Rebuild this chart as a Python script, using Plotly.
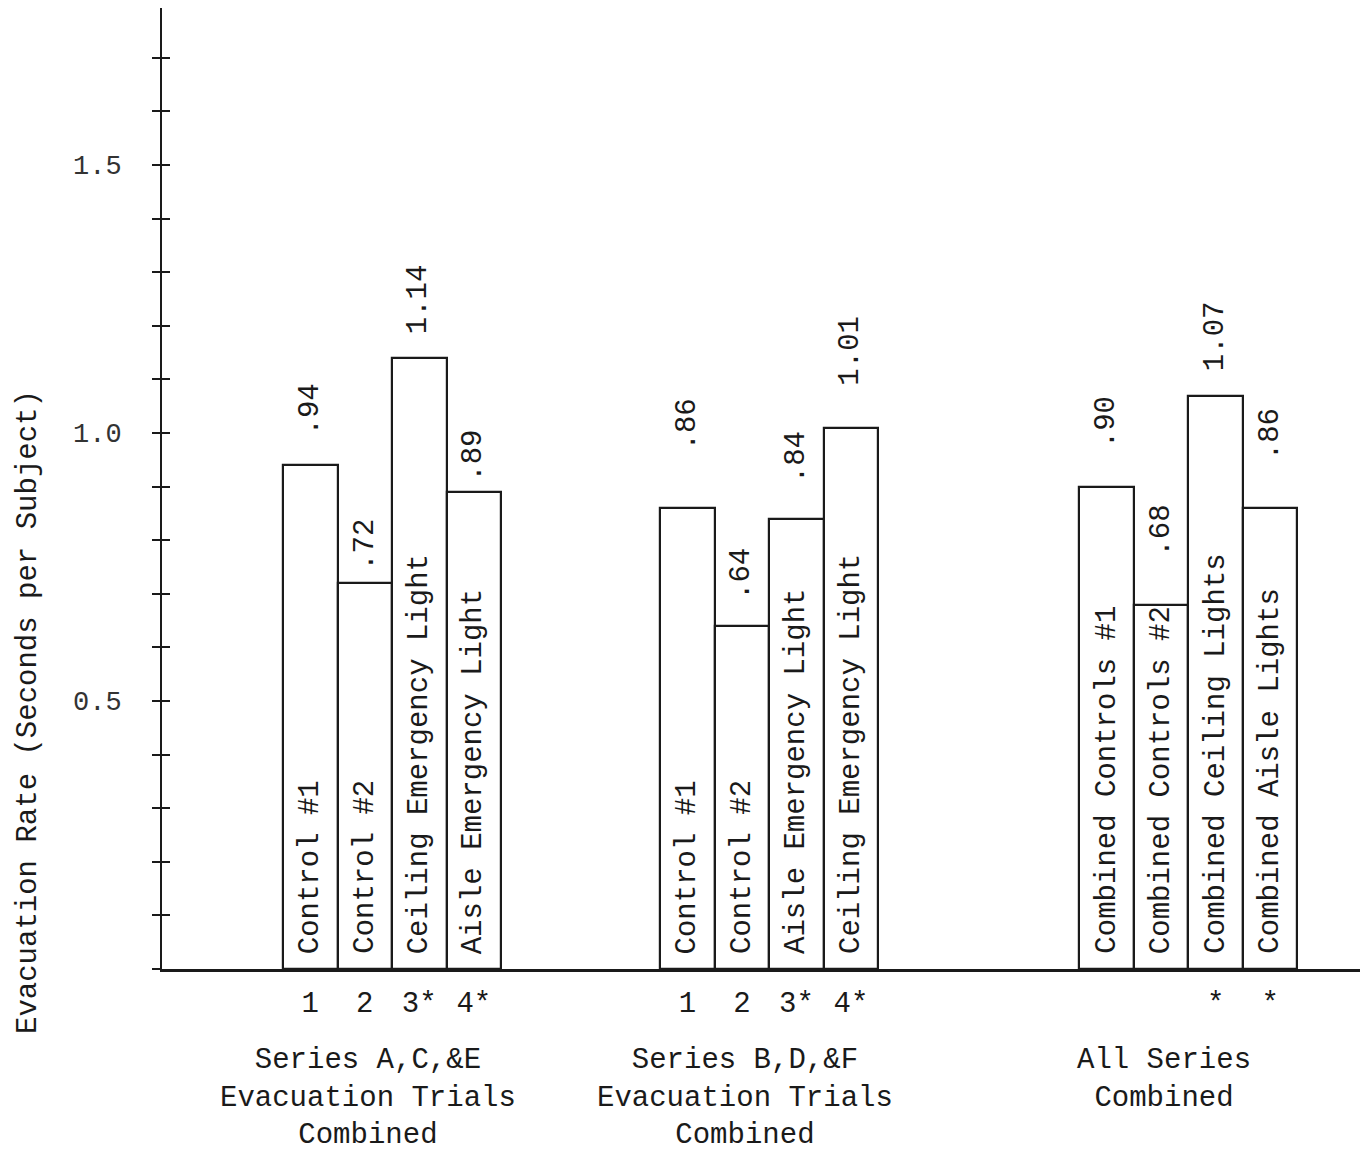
import plotly.graph_objects as go

# ---------------- data ----------------
GROUP_LABELS = [
    "Series A,C,&E<br>Evacuation Trials<br>Combined",
    "Series B,D,&F<br>Evacuation Trials<br>Combined",
    "All Series<br>Combined",
]
BAR_NAMES = [
    ["Control #1", "Control #2", "Ceiling Emergency Light", "Aisle Emergency Light"],
    ["Control #1", "Control #2", "Aisle Emergency Light", "Ceiling Emergency Light"],
    ["Combined Controls #1", "Combined Controls #2", "Combined Ceiling Lights", "Combined Aisle Lights"],
]
VALUES = [
    [0.94, 0.72, 1.14, 0.89],
    [0.86, 0.64, 0.84, 1.01],
    [0.90, 0.68, 1.07, 0.86],
]
VALUE_LABELS = [
    [".94", ".72", "1.14", ".89"],
    [".86", ".64", ".84", "1.01"],
    [".90", ".68", "1.07", ".86"],
]
BAR_MARKS = [
    ["1", "2", "3*", "4*"],
    ["1", "2", "3*", "4*"],
    ["", "", "*", "*"],
]
Y_TICK_VALUES = [0.5, 1.0, 1.5]
Y_TICK_LABELS = ["0.5", "1.0", "1.5"]
Y_TITLE = "Evacuation Rate (Seconds per Subject)"

# ---------------- layout / style ----------------
GROUP_START = [2.22, 9.14, 16.83]      # left edge of each group, in bar widths
X_RANGE = [0, 22.07]
Y_RANGE = [0, 1.793]
GROUP_LABEL_SHIFT = -0.44
VALUE_GAP_PX = [[28, 10, 22, 8], [56, 24, 34, 40], [36, 46, 22, 46]]
FONT = "Liberation Mono, Courier New, monospace"
INK = "#1a1a1a"
FS = 29

centers, vals, names, marks, vlabels, gaps = [], [], [], [], [], []
for g in range(len(VALUES)):
    for i in range(len(VALUES[g])):
        centers.append(GROUP_START[g] + i + 0.5)
        vals.append(VALUES[g][i])
        names.append(BAR_NAMES[g][i])
        marks.append(BAR_MARKS[g][i])
        vlabels.append(VALUE_LABELS[g][i])
        gaps.append(VALUE_GAP_PX[g][i])

fig = go.Figure()
fig.add_trace(go.Bar(
    x=centers, y=vals, width=1.0,
    marker=dict(color="white", line=dict(color=INK, width=2.2)),
    hoverinfo="skip", showlegend=False,
))
# helper trace for the mirrored (inside) tick half
fig.add_trace(go.Scatter(x=[None], y=[None], yaxis="y2", showlegend=False, hoverinfo="skip"))

annotations = []
for c, v, n, vl, gp in zip(centers, vals, names, vlabels, gaps):
    annotations.append(dict(
        x=c, y=0, xref="x", yref="y", text=n, textangle=-90,
        xanchor="center", yanchor="bottom", yshift=13, showarrow=False,
        font=dict(family=FONT, size=FS, color=INK),
    ))
    annotations.append(dict(
        x=c, y=v, xref="x", yref="y", text=vl, textangle=-90,
        xanchor="center", yanchor="bottom", yshift=gp, showarrow=False,
        font=dict(family=FONT, size=FS, color=INK),
    ))
for g, lab in enumerate(GROUP_LABELS):
    annotations.append(dict(
        x=GROUP_START[g] + 2 + GROUP_LABEL_SHIFT, y=0, xref="x", yref="y",
        text=lab, align="center", xanchor="center", yanchor="top", yshift=-73,
        showarrow=False, font=dict(family=FONT, size=FS, color=INK),
    ))
annotations.append(dict(
    x=-0.1114, y=0.2674, xref="paper", yref="paper", text=Y_TITLE, textangle=-90,
    xanchor="center", yanchor="middle", showarrow=False,
    font=dict(family=FONT, size=FS, color=INK),
))

fig.update_layout(
    width=1360, height=1146,
    margin=dict(l=154, r=3, t=0, b=185),
    paper_bgcolor="white", plot_bgcolor="white",
    bargap=0, showlegend=False,
    annotations=annotations,
    xaxis=dict(
        range=X_RANGE, showgrid=False, zeroline=False,
        showline=True, linecolor=INK, linewidth=3,
        tickmode="array", tickvals=centers, ticktext=marks, ticks="",
        ticklabelstandoff=5,
        tickfont=dict(family=FONT, size=FS, color=INK),
    ),
    yaxis=dict(
        range=Y_RANGE, showgrid=False, zeroline=False,
        showline=True, linecolor=INK, linewidth=2,
        tickmode="array", tickvals=Y_TICK_VALUES, ticktext=Y_TICK_LABELS,
        ticks="outside", ticklen=8, tickwidth=2, tickcolor=INK,
        ticklabelstandoff=25,
        tickfont=dict(family=FONT, size=FS - 2, color="#333"),
        minor=dict(dtick=0.1, tick0=0, ticks="outside", ticklen=8, tickwidth=2, tickcolor=INK),
    ),
    yaxis2=dict(
        range=Y_RANGE, overlaying="y", side="left", anchor="x",
        showgrid=False, zeroline=False, showline=False,
        tickmode="linear", tick0=0, dtick=0.1,
        ticks="inside", ticklen=8, tickwidth=2, tickcolor=INK,
        showticklabels=False,
    ),
)

fig.write_html("out.html")
